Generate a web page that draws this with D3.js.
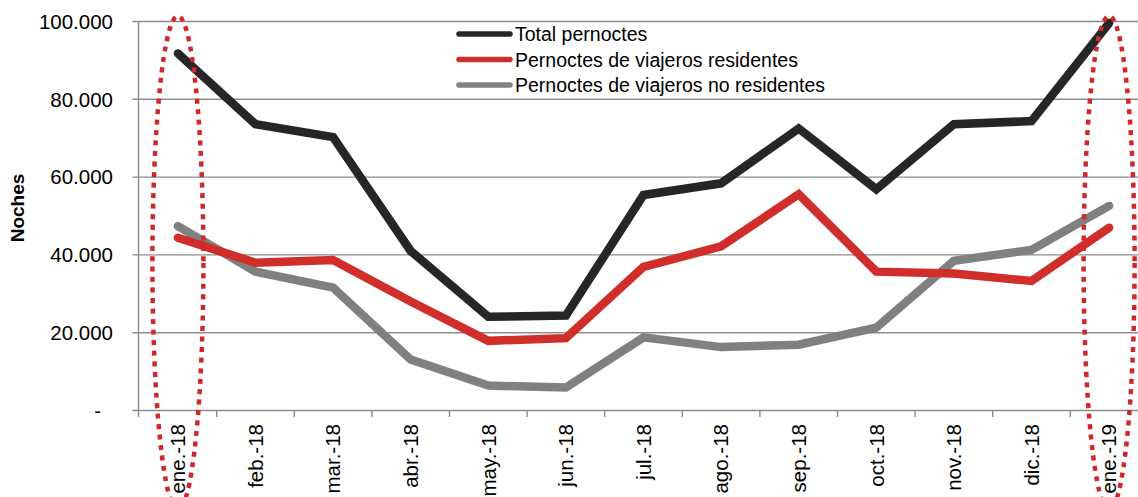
<!DOCTYPE html>
<html>
<head>
<meta charset="utf-8">
<script src="https://cdn.jsdelivr.net/npm/d3@7"></script>
<style>
  html, body { margin: 0; padding: 0; background: #fff; overflow: hidden; }
  svg { display: block; font-family: "Liberation Sans", Arial, sans-serif; }
</style>
</head>
<body>
<svg id="chart" width="1138" height="497"></svg>
<script>
// data
var months = ['ene.-18', 'feb.-18', 'mar.-18', 'abr.-18', 'may.-18', 'jun.-18',
  'jul.-18', 'ago.-18', 'sep.-18', 'oct.-18', 'nov.-18', 'dic.-18', 'ene.-19']
var total = [91800, 73600, 70300, 41000, 24100, 24400, 55400, 58400, 72500, 56900, 73600, 74400, 99600]
var residentes = [44400, 38000, 38700, 28000, 17900, 18600, 36900, 42200, 55600, 35700, 35200, 33300, 47000]
var noResidentes = [47400, 35700, 31600, 13100, 6400, 5900, 18800, 16300, 16900, 21300, 38500, 41300, 52600]
var yTicks = [0, 20000, 40000, 60000, 80000, 100000]
var seriesNames = ['Total pernoctes', 'Pernoctes de viajeros residentes', 'Pernoctes de viajeros no residentes']
var highlighted = ['ene.-18', 'ene.-19']

;(function () {
  var svg = d3.select('#chart')
  var colors = ['#262626', '#cf2e2a', '#808080']
  var series = [total, residentes, noResidentes]

  var x = d3.scaleBand()
      .domain(months)
      .range([139.1, 1147.9])
      .padding(0)
  var y = d3.scaleLinear()
      .domain([0, 100000])
      .range([410.5, 21.5])
  var fmt = v => v === 0 ? '-' : d3.format(',')(v).replace(/,/g, '.')
  var cx = m => x(m) + x.bandwidth() / 2

  // gridlines + y tick marks
  var gy = svg.append('g')
  gy.selectAll('line.grid')
      .data(yTicks)
      .enter().append('line')
      .attr('x1', 132.5).attr('x2', 1138)
      .attr('y1', d => y(d)).attr('y2', d => y(d))
      .attr('stroke', '#8c8c8c')
      .attr('stroke-width', 1.4)
  gy.selectAll('text')
      .data(yTicks)
      .enter().append('text')
      .attr('x', d => d === 0 ? 101 : 113)
      .attr('y', d => y(d))
      .attr('dy', '0.36em')
      .attr('text-anchor', 'end')
      .attr('font-size', 20.5)
      .attr('fill', '#000')
      .text(fmt)

  // y axis line
  svg.append('line')
      .attr('x1', 138.5).attr('x2', 138.5)
      .attr('y1', y(100000)).attr('y2', 417)
      .attr('stroke', '#8c8c8c')
      .attr('stroke-width', 1.4)

  // x tick marks at band edges
  svg.append('g').selectAll('line')
      .data(months.slice(1))
      .enter().append('line')
      .attr('x1', d => x(d)).attr('x2', d => x(d))
      .attr('y1', y(0)).attr('y2', 417)
      .attr('stroke', '#8c8c8c')
      .attr('stroke-width', 1.4)

  // x labels, rotated
  svg.append('g').selectAll('text')
      .data(months)
      .enter().append('text')
      .attr('transform', d => `translate(${cx(d)}, 424) rotate(-90)`)
      .attr('text-anchor', 'end')
      .attr('dy', '0.36em')
      .attr('font-size', 20.5)
      .attr('fill', '#000')
      .text(d => d)

  // y title
  svg.append('text')
      .attr('transform', 'translate(24, 208) rotate(-90)')
      .attr('text-anchor', 'middle')
      .attr('font-size', 19)
      .attr('font-weight', 'bold')
      .attr('fill', '#000')
      .text('Noches')

  // series lines
  var line = d3.line()
      .x((d, i) => cx(months[i]))
      .y(d => y(d))
  svg.append('g').selectAll('path')
      .data(series.slice().reverse())
      .enter().append('path')
      .attr('d', line)
      .attr('fill', 'none')
      .attr('stroke', (d, i) => colors[2 - i])
      .attr('stroke-width', 8.5)
      .attr('stroke-linecap', 'round')
      .attr('stroke-linejoin', 'miter')

  // dotted ellipses around january
  svg.append('g').selectAll('ellipse')
      .data(highlighted)
      .enter().append('ellipse')
      .attr('cx', d => cx(d))
      .attr('cy', 263)
      .attr('rx', 25.5)
      .attr('ry', 247)
      .attr('fill', 'none')
      .attr('stroke', '#d0282a')
      .attr('stroke-width', 4.5)
      .attr('stroke-dasharray', '5,5.5')

  // legend
  var leg = svg.append('g')
      .selectAll('g')
      .data(seriesNames)
      .enter().append('g')
      .attr('transform', (d, i) => `translate(0, ${34 + i * 25.5})`)
  leg.append('line')
      .attr('x1', 459).attr('x2', 510)
      .attr('stroke', (d, i) => colors[i])
      .attr('stroke-width', 5.5)
      .attr('stroke-linecap', 'round')
  leg.append('text')
      .attr('x', 515)
      .attr('dy', '0.36em')
      .attr('font-size', 19.5)
      .attr('fill', '#000')
      .text(d => d)
})()
</script>
</body>
</html>
